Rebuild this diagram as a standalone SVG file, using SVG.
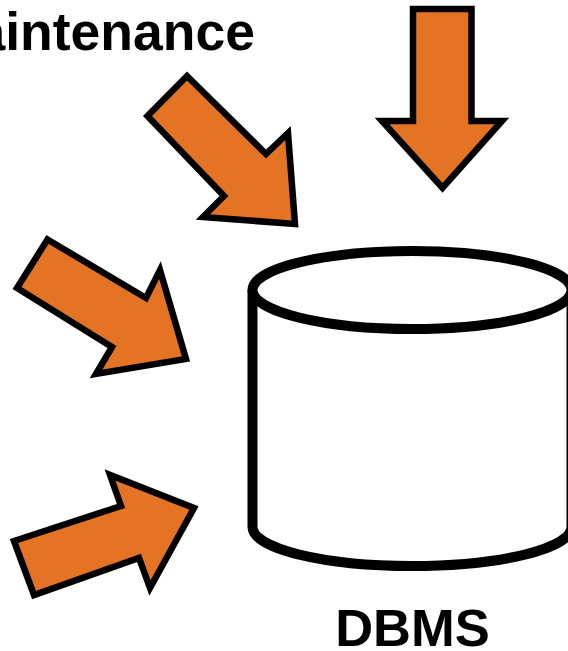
<svg xmlns="http://www.w3.org/2000/svg" width="568" height="651" viewBox="0 0 568 651">
<style>
.a{fill:#e47324;stroke:#000;stroke-width:6.5;stroke-linejoin:miter;stroke-miterlimit:10}
.c{fill:#fff;stroke:#000;stroke-width:10}
text{font-family:"Liberation Sans",Arial,sans-serif;font-weight:700;fill:#000}
</style>
<rect width="568" height="651" fill="#fff"/>
<g id="labels">
<text x="255" y="49.500" text-anchor="end" font-size="53.500">aintenance</text>
<text x="412.500" y="646" text-anchor="middle" font-size="52.500">DBMS</text>
</g>
<g id="connectors">
<polygon class="a" points="413,9 471.500,9 471.500,121 502,121 442.500,188 382,121 413,121"/>
<polygon class="a" points="187,76 266,154 288,133 295,224 203,217 224,196 147.500,116"/>
<polygon class="a" points="47.500,239.500 146,298 160,270 186,359 96,374 112,347 17,288"/>
<polygon class="a" points="14,541 121,506 110,475 194,508 150,588 139,558 34,595"/>
</g>
<g id="dbms">
<path class="c" d="M252.500,290V527A159.500,39 0 0 0 571.500,527V290"/>
<ellipse class="c" cx="412" cy="290" rx="159.500" ry="39"/>
</g>
</svg>
